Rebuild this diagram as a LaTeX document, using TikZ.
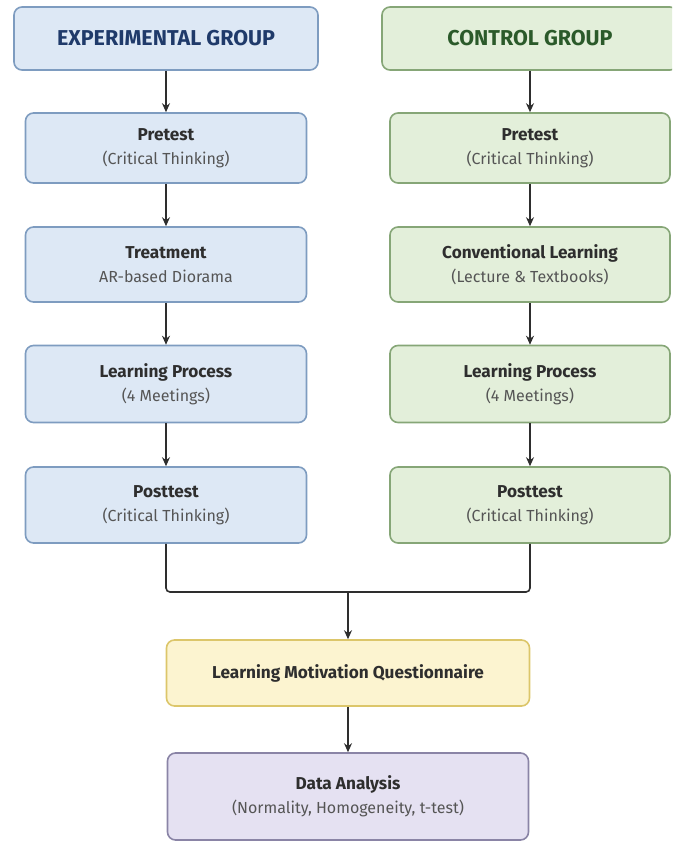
\documentclass[tikz,border=0pt]{standalone}
\usepackage{fontspec}
\setmainfont{Fira Sans}
\usetikzlibrary{arrows.meta}
\definecolor{bfill}{HTML}{DDE8F5}
\definecolor{bdraw}{HTML}{7E9CC0}
\definecolor{btext}{HTML}{1F3A6A}
\definecolor{gfill}{HTML}{E3EFDA}
\definecolor{gdraw}{HTML}{86A677}
\definecolor{gtext}{HTML}{2B5A2A}
\definecolor{yfill}{HTML}{FCF4D0}
\definecolor{ydraw}{HTML}{DCC66A}
\definecolor{pfill}{HTML}{E5E1F2}
\definecolor{pdraw}{HTML}{8A84A6}
\definecolor{ink}{HTML}{2E2E2E}
\definecolor{sub}{HTML}{555555}
\tikzset{
  box/.style={draw, line width=1.6pt, rounded corners=8pt, align=center, inner sep=0pt,
    font=\fontsize{16}{24}\selectfont, text=ink},
  bluebox/.style={box, fill=bfill, draw=bdraw},
  greenbox/.style={box, fill=gfill, draw=gdraw},
  yellowbox/.style={box, fill=yfill, draw=ydraw},
  purplebox/.style={box, fill=pfill, draw=pdraw},
  hdr/.style={font=\fontsize{21.5}{24}\selectfont\bfseries},
  conn/.style={draw=ink, line width=1.6pt, -{Stealth[length=9pt,width=8pt]}},
  merge/.style={draw=ink, line width=1.6pt, rounded corners=4pt}
}
\newcommand{\ttl}[1]{{\fontsize{17.2}{24}\selectfont\bfseries #1}}
\newcommand{\sbt}[1]{{\color{sub}#1}}
\begin{document}
\begin{tikzpicture}[x=1pt,y=-1pt]
\useasboundingbox (0,0) rectangle (672,843);
\clip (0,0) rectangle (672,843);
% left column
\node[bluebox, hdr, text=btext, minimum width=304pt, minimum height=63pt] (lh) at (166,38.5) {EXPERIMENTAL GROUP};
\node[bluebox, minimum width=281pt, minimum height=70pt] (lpre) at (166,148) {\ttl{Pretest}\\\sbt{(Critical Thinking)}};
\node[bluebox, minimum width=281pt, minimum height=75pt] (ltr) at (166,264.5) {\ttl{Treatment}\\\sbt{AR-based Diorama}};
\node[bluebox, minimum width=281pt, minimum height=77pt] (llp) at (166,384) {\ttl{Learning Process}\\\sbt{(4 Meetings)}};
\node[bluebox, minimum width=281pt, minimum height=76pt] (lpo) at (166,505) {\ttl{Posttest}\\\sbt{(Critical Thinking)}};
% right column
\node[greenbox, hdr, text=gtext, minimum width=296pt, minimum height=63pt] (rh) at (530,38.5) {CONTROL GROUP};
\node[greenbox, minimum width=280pt, minimum height=70pt] (rpre) at (530,148) {\ttl{Pretest}\\\sbt{(Critical Thinking)}};
\node[greenbox, minimum width=280pt, minimum height=75pt] (rcl) at (530,264.5) {\ttl{Conventional Learning}\\\sbt{(Lecture \& Textbooks)}};
\node[greenbox, minimum width=280pt, minimum height=77pt] (rlp) at (530,384) {\ttl{Learning Process}\\\sbt{(4 Meetings)}};
\node[greenbox, minimum width=280pt, minimum height=76pt] (rpo) at (530,505) {\ttl{Posttest}\\\sbt{(Critical Thinking)}};
% bottom
\node[yellowbox, minimum width=363pt, minimum height=66pt] (q) at (348,673) {\ttl{Learning Motivation Questionnaire}};
\node[purplebox, minimum width=361pt, minimum height=87pt] (da) at (348,796.5) {\ttl{Data Analysis}\\\sbt{(Normality, Homogeneity, t-test)}};
\coordinate (mid) at (348,592);
% connectors
\draw[conn] (lh) -- (lpre);
\draw[conn] (lpre) -- (ltr);
\draw[conn] (ltr) -- (llp);
\draw[conn] (llp) -- (lpo);
\draw[conn] (rh) -- (rpre);
\draw[conn] (rpre) -- (rcl);
\draw[conn] (rcl) -- (rlp);
\draw[conn] (rlp) -- (rpo);
\draw[merge] (lpo.south) |- (mid) -| (rpo.south);
\draw[conn] (mid) -- (mid |- q.north);
\draw[conn] (q) -- (da);
\end{tikzpicture}
\end{document}
